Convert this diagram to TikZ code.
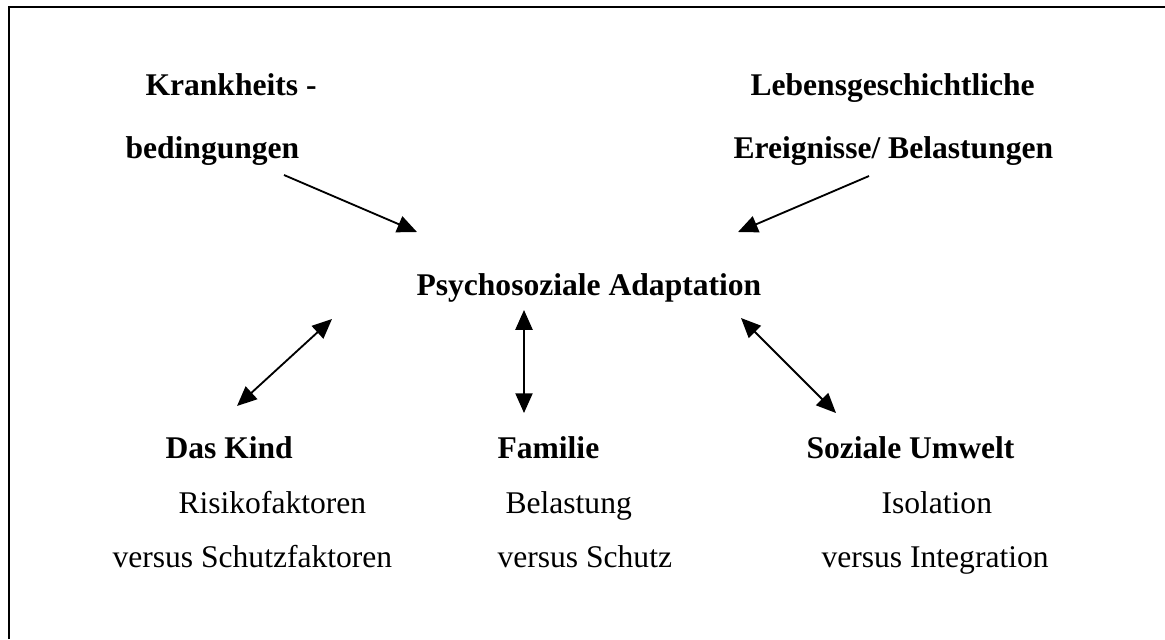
\documentclass[tikz,border=0pt]{standalone}
\usepackage{fontspec}
\setmainfont{Liberation Serif}
\usetikzlibrary{arrows.meta}

\begin{document}
\begin{tikzpicture}[x=0.38pt, y=-0.38pt,
    every node/.style={inner sep=0pt, anchor=base west, font=\fontsize{12}{14}\selectfont},
    head/.style={font=\fontsize{12}{14}\selectfont\bfseries},
    tip/.style={line width=0.7pt, -{Triangle[length=7.5pt, width=6.5pt]}},
    twoway/.style={line width=0.7pt, {Triangle[length=7.5pt, width=6.5pt]}-{Triangle[length=7.5pt, width=6.5pt]}} ]

    \useasboundingbox (0,0) rectangle (1165,639);

    % frame, cut at the right and the bottom
    \draw[line width=0.8pt] (9,639) -- (9,7) -- (1165,7);

    % influences
    \node[head] (krank1) at (145,95) {Krankheits -};
    \node[head] (krank2) at (125,158) {bedingungen};
    \node[head] (leben1) at (750,95) {Lebensgeschichtliche};
    \node[head] (leben2) at (733,158) {Ereignisse/ Belastungen};

    % centre
    \node[head] (adapt) at (416,295) {Psychosoziale Adaptation};

    % three fields
    \node[head] (kind) at (165,458) {Das Kind};
    \node (kind1) at (178,513) {Risikofaktoren};
    \node (kind2) at (112,567) {versus Schutzfaktoren};

    \node[head] (fam) at (497,458) {Familie};
    \node (fam1) at (505,513) {Belastung};
    \node (fam2) at (497,567) {versus Schutz};

    \node[head] (umwelt) at (806,458) {Soziale Umwelt};
    \node (umwelt1) at (881,513) {Isolation};
    \node (umwelt2) at (821,567) {versus Integration};

    % arrow ends
    \coordinate (KA) at (284,175);
    \coordinate (KB) at (417,232);
    \coordinate (LA) at (869,176);
    \coordinate (LB) at (738,232);
    \coordinate (DA) at (332,319);
    \coordinate (DB) at (237,406);
    \coordinate (FA) at (524,310);
    \coordinate (FB) at (524,413);
    \coordinate (SA) at (741,318);
    \coordinate (SB) at (836,413);

    \draw[tip] (KA) -- (KB);
    \draw[tip] (LA) -- (LB);
    \draw[twoway] (DA) -- (DB);
    \draw[twoway] (FA) -- (FB);
    \draw[twoway] (SA) -- (SB);

\end{tikzpicture}
\end{document}
